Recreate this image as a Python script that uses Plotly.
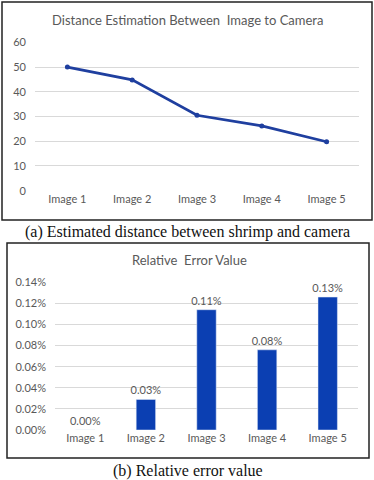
import plotly.graph_objects as go

categories = ["Image 1", "Image 2", "Image 3", "Image 4", "Image 5"]
distance_values = [50, 44.8, 30.5, 26.2, 19.8]
error_values = [0.0, 0.029, 0.114, 0.076, 0.126]
error_labels = ["0.00%", "0.03%", "0.11%", "0.08%", "0.13%"]
dist_ticks = [0, 10, 20, 30, 40, 50, 60]
err_ticks = [0.0, 0.02, 0.04, 0.06, 0.08, 0.10, 0.12, 0.14]
err_tick_labels = ["0.00%", "0.02%", "0.04%", "0.06%", "0.08%", "0.10%", "0.12%", "0.14%"]

W, H = 374, 480
def px(x):
    return x / W
def py(y):
    return (H - y) / H

FONT = "Lato, Open Sans, sans-serif"
GRAY = "#595959"
GRID = "#d9d9d9"

fig = go.Figure()
fig.add_trace(go.Scatter(
    x=categories, y=distance_values, mode="lines+markers",
    line=dict(color="#1f3f9f", width=2.75),
    marker=dict(color="#1f3f9f", size=5),
    xaxis="x", yaxis="y", showlegend=False))
fig.add_trace(go.Bar(
    x=categories, y=error_values, text=error_labels, textposition="outside",
    textfont=dict(family=FONT, size=11, color=GRAY), constraintext="none",
    marker=dict(color="#0b3fb2"), width=0.32, cliponaxis=False,
    xaxis="x2", yaxis="y2", showlegend=False))

axis_common = dict(showline=False, zeroline=False, ticks="", automargin=False,
                   tickfont=dict(family=FONT, size=11, color=GRAY))
fig.update_layout(
    width=W, height=H, margin=dict(l=0, r=0, t=0, b=0, pad=0),
    paper_bgcolor="white", plot_bgcolor="white",
    xaxis=dict(domain=[px(35), px(359)], anchor="y", showgrid=False,
               range=[-0.5, 4.5], **axis_common),
    yaxis=dict(domain=[py(190.7), py(42.3)], anchor="x", range=[0, 60],
               tickvals=dist_ticks, showgrid=True, gridcolor=GRID, gridwidth=1,
               ticklabelstandoff=8, **axis_common),
    xaxis2=dict(domain=[px(55), px(358)], anchor="y2", showgrid=False,
                range=[-0.5, 4.5], **axis_common),
    yaxis2=dict(domain=[py(430), py(282.3)], anchor="x2", range=[0, 0.14],
                tickvals=err_ticks, ticktext=err_tick_labels,
                showgrid=True, gridcolor=GRID, gridwidth=1,
                ticklabelstandoff=8, **axis_common),
    font=dict(family=FONT, color=GRAY),
)

fig.add_shape(type="rect", xref="paper", yref="paper",
              x0=px(2), x1=px(372), y0=py(220), y1=py(2),
              line=dict(color="#222222", width=1.5), layer="above")
fig.add_shape(type="rect", xref="paper", yref="paper",
              x0=px(7), x1=px(369), y0=py(458), y1=py(243),
              line=dict(color="#222222", width=1.5), layer="above")

def note(text, x, y, font):
    fig.add_annotation(text=text, xref="paper", yref="paper", x=px(x), y=py(y),
                       xanchor="center", yanchor="middle", showarrow=False, font=font)

note("Distance Estimation Between  Image to Camera", 187, 20,
     dict(family=FONT, size=13, color=GRAY))
note("Relative  Error Value", 189, 260, dict(family=FONT, size=13, color=GRAY))
serif = dict(family="Liberation Serif, Times New Roman, serif", size=16, color="#111111")
note("(a) Estimated distance between shrimp and camera", 187, 232, serif)
note("(b) Relative error value", 188, 471, serif)

fig.write_html("out.html", config={"displayModeBar": False},
               post_script="document.body.style.margin='0';")
